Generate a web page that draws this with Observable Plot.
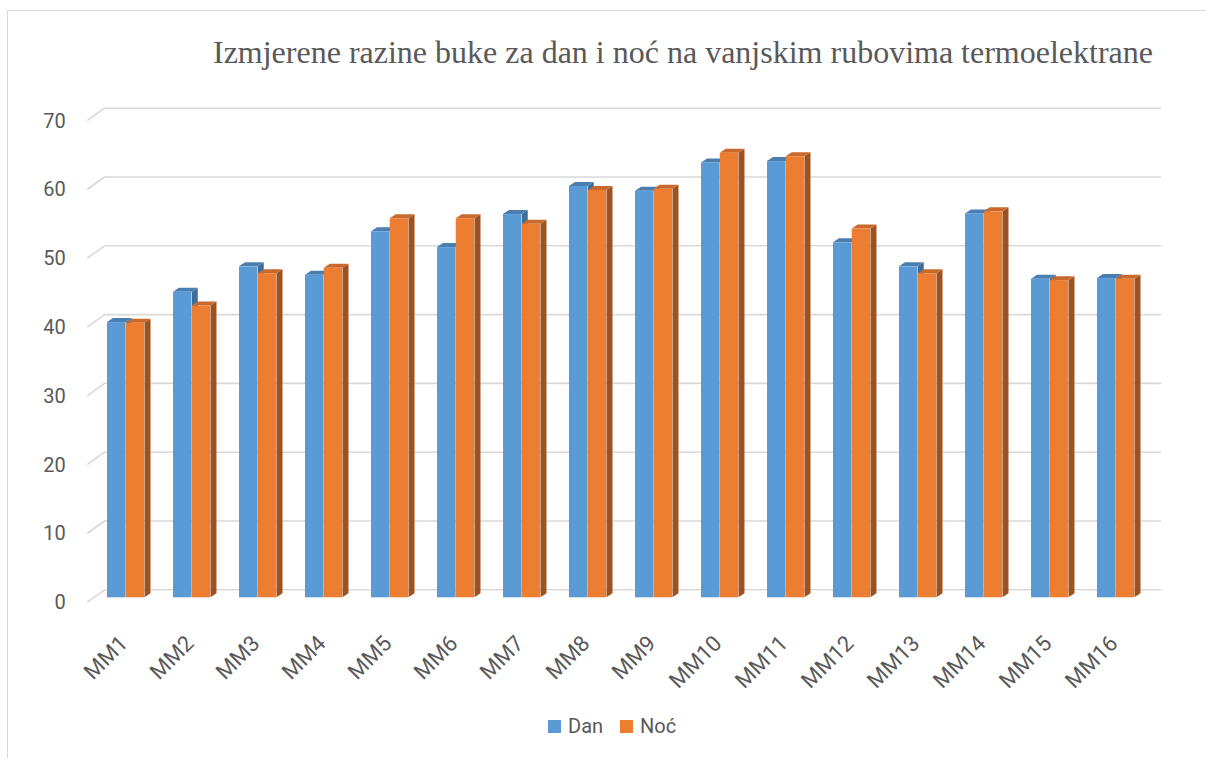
<!DOCTYPE html>
<html>
<head>
<meta charset="utf-8">
<script src="https://cdn.jsdelivr.net/npm/d3@7"></script>
<script src="https://cdn.jsdelivr.net/npm/@observablehq/plot@0.6"></script>
<style>
  body { margin: 0; background: #fff; }
  #wrap { position: relative; width: 1206px; height: 758px; overflow: hidden; font-family: Roboto, sans-serif; }
  #border { position: absolute; left: 7px; top: 10px; width: 1300px; height: 900px; border-left: 1.5px solid #d9d9d9; border-top: 1.5px solid #d9d9d9; }
  #title { position: absolute; right: 53px; top: 35.5px; font-family: "Liberation Serif", "Times New Roman", serif; font-size: 32px; color: #595959; white-space: nowrap; line-height: 1; }
  #chart { position: absolute; left: 0; top: 90px; }
  #legend { position: absolute; left: 548px; top: 716px; display: flex; align-items: center; font-size: 20px; color: #595959; line-height: 1; }
  .sw { width: 13px; height: 13px; display: inline-block; margin-right: 7px; }
  .item { display: flex; align-items: center; margin-right: 17px; }
</style>
</head>
<body>
<div id="wrap">
  <div id="border"></div>
  <div id="title"></div>
  <div id="chart"></div>
  <div id="legend"></div>
</div>
<script>
// ---- data ----
const title = "Izmjerene razine buke za dan i noć na vanjskim rubovima termoelektrane";
const categories = ["MM1","MM2","MM3","MM4","MM5","MM6","MM7","MM8","MM9","MM10","MM11","MM12","MM13","MM14","MM15","MM16"];
const seriesNames = ["Dan", "Noć"];
const dan = [40.0, 44.4, 48.1, 46.9, 53.2, 50.9, 55.7, 59.8, 59.1, 63.2, 63.4, 51.6, 48.1, 55.8, 46.3, 46.4];
const noc = [39.9, 42.4, 47.1, 47.9, 55.1, 55.1, 54.3, 59.2, 59.4, 64.6, 64.1, 53.6, 47.1, 56.1, 46.1, 46.3];
const yTicks = [0, 10, 20, 30, 40, 50, 60, 70];
const frontColors = ["#5b9bd5", "#ed7d31"];
const topColors = ["#4a7db0", "#c9692b"];
const sideColors = ["#3f6d99", "#9d5220"];

// ---- layout ----
const W = 1206, H = 607.3;
const mL = 93.2, mR = 56.8, mT = 25.7, mB = 100;
const pIn = 0.432, pOut = 0.216;
const step = (W - mL - mR) / (categories.length - pIn + 2 * pOut);
const bw = step * (1 - pIn);
const depthX = 6, depthY = -4;

const rows = seriesNames.map((s, si) => categories.map((c, i) => ({cat: c, series: s, value: (si === 0 ? dan : noc)[i]})));

document.getElementById("title").textContent = title;

const chart = Plot.plot({
  width: W, height: H,
  marginLeft: mL, marginRight: mR, marginTop: mT, marginBottom: mB,
  style: {background: "transparent", fontFamily: "Roboto, sans-serif", overflow: "visible"},
  x: {type: "band", domain: categories, paddingInner: pIn, paddingOuter: pOut, axis: null},
  y: {domain: [0, 70], axis: null},
  marks: [
    Plot.ruleY(yTicks, {y: d => d, dx: 12, dy: -8, stroke: "#d9d9d9", strokeWidth: 1.6}),
    Plot.text(yTicks, {y: d => d, frameAnchor: "left", dx: -28, dy: 5, textAnchor: "end", text: d => String(d), fontSize: 20, fill: "#595959"}),
    Plot.barY(rows[0], {x: "cat", y: "value", fill: frontColors[0], insetRight: bw / 2}),
    Plot.barY(rows[1], {x: "cat", y: "value", fill: frontColors[1], insetLeft: bw / 2}),
    Plot.text(categories, {x: d => d, y: () => 0, dx: -2, dy: 42, rotate: -45, textAnchor: "end", text: d => d, fontSize: 22, fill: "#595959"})
  ]
});
document.getElementById("chart").appendChild(chart);

// ---- 3D faces, using Plot's scales ----
const xs = chart.scale("x"), ys = chart.scale("y");
const barGroups = chart.querySelectorAll('g[aria-label="bar"]');
const x0 = xs.range[0];

// left diagonal segments of gridlines (wall perspective)
const diag = document.createElementNS("http://www.w3.org/2000/svg", "g");
chart.insertBefore(diag, barGroups[0]);
d3.select(diag).selectAll("line").data(yTicks).join("line")
  .attr("x1", x0 - 6).attr("y1", d => ys.apply(d) + 5)
  .attr("x2", x0 + 12).attr("y2", d => ys.apply(d) - 8)
  .attr("stroke", "#d9d9d9").attr("stroke-width", 1.6);

seriesNames.forEach((s, si) => {
  const g = document.createElementNS("http://www.w3.org/2000/svg", "g");
  chart.insertBefore(g, barGroups[si]);
  const sel = d3.select(g);
  rows[si].forEach(r => {
    const xa = xs.apply(r.cat) + si * bw / 2;
    const xb = xa + bw / 2;
    const yt = ys.apply(r.value), yb = ys.apply(0);
    sel.append("polygon")
      .attr("points", [[xb, yt], [xb + depthX, yt + depthY], [xb + depthX, yb + depthY], [xb, yb]].map(p => p.join(",")).join(" "))
      .attr("fill", sideColors[si]);
    sel.append("polygon")
      .attr("points", [[xa, yt], [xb, yt], [xb + depthX, yt + depthY], [xa + depthX, yt + depthY]].map(p => p.join(",")).join(" "))
      .attr("fill", topColors[si]);
  });
});

// ---- legend ----
const legend = document.getElementById("legend");
seriesNames.forEach((s, si) => {
  const it = document.createElement("div");
  it.className = "item";
  const sw = document.createElement("span");
  sw.className = "sw";
  sw.style.background = frontColors[si];
  const t = document.createElement("span");
  t.textContent = s;
  it.appendChild(sw); it.appendChild(t);
  legend.appendChild(it);
});
</script>
</body>
</html>
